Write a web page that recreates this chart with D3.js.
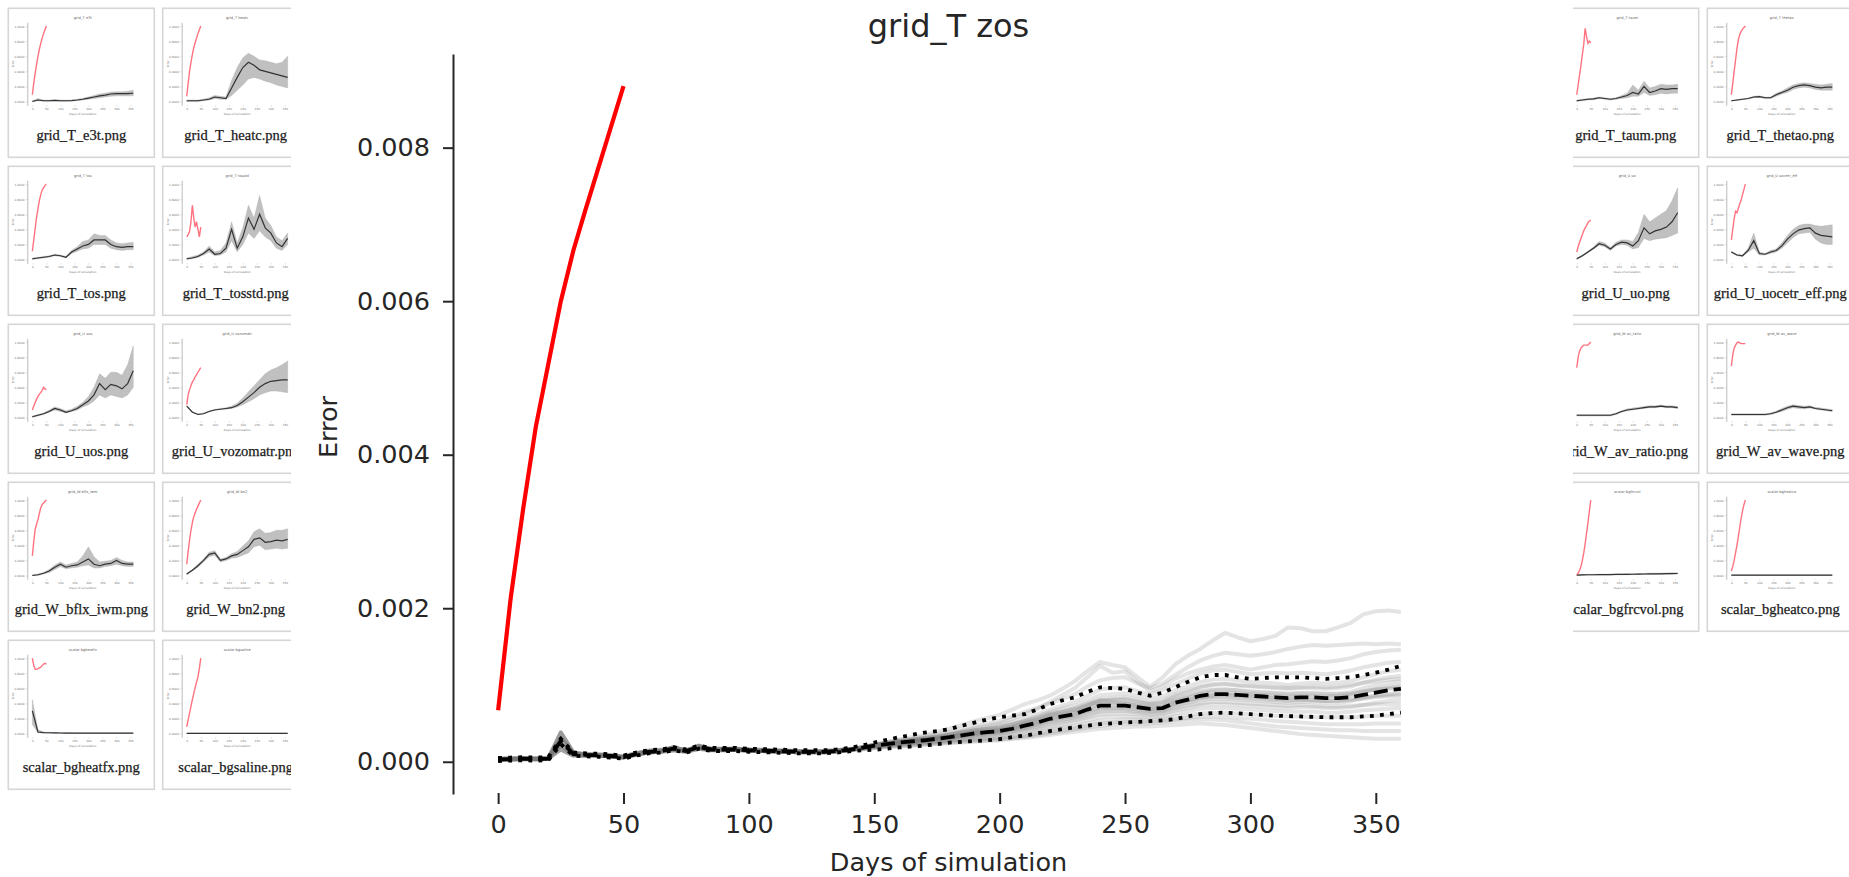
<!DOCTYPE html>
<html><head><meta charset="utf-8">
<script src="https://cdn.jsdelivr.net/npm/d3@7"></script>
<style>
html,body{margin:0;padding:0;background:#fff;overflow:hidden}
svg{display:block}
</style></head><body>
<svg id="c" width="1849" height="877"></svg>
<script>
// ---------------- MAIN CHART DATA ----------------
const chartTitle = "grid_T zos";
const xLabel = "Days of simulation";
const yLabel = "Error";
const xTicks = [0, 50, 100, 150, 200, 250, 300, 350];
const yTicks = [0, 0.002, 0.004, 0.006, 0.008];
const days = d3.range(0, 361, 5);               // sampling days of the ensemble
const redDays = [0, 5, 10, 15, 20, 25, 30, 35, 40, 45, 50];
const redErr = [0.00067, 0.00213, 0.0033, 0.00436, 0.00518, 0.006, 0.00666, 0.00721, 0.00774, 0.00827, 0.0088];
// ensemble statistics, in units of 1e-4
const meanE4 = [0.3,0.35,0.4,0.35,0.4,2.7,1.0,0.9,0.85,0.75,0.6,1.0,1.3,1.4,1.7,1.4,1.9,1.6,1.6,1.6,1.5,1.45,1.4,1.35,1.3,1.3,1.3,1.4,1.55,
 1.8,2.1,2.3,2.5,2.65,2.8,3.0,3.2,3.45,3.7,3.85,4.0,4.3,4.7,5.1,5.6,5.9,6.2,6.8,7.3,7.3,7.3,7.1,6.9,7.0,7.7,8.1,8.6,8.8,8.8,8.7,8.6,8.5,8.4,8.3,8.4,8.4,8.3,8.3,8.4,8.7,9.0,9.3,9.5];
const upperE4 = [0.5,0.55,0.6,0.55,0.6,3.0,1.2,1.1,1.05,0.95,0.8,1.2,1.5,1.6,1.9,1.6,2.1,1.8,1.8,1.8,1.7,1.65,1.6,1.55,1.5,1.5,1.5,1.6,1.8,
 2.1,2.5,2.85,3.2,3.5,3.8,4.0,4.25,4.7,5.1,5.5,5.8,6.0,6.2,6.8,7.5,8.0,8.4,9.1,9.7,9.6,9.5,9.0,8.6,9.0,9.7,10.4,11.0,11.3,11.3,11.0,10.8,10.9,11.0,11.0,11.0,10.9,10.8,10.9,11.0,11.3,11.6,12.0,12.5];
const lowerE4 = [0.1,0.15,0.2,0.15,0.2,2.3,0.8,0.7,0.65,0.55,0.4,0.8,1.1,1.2,1.5,1.2,1.7,1.4,1.4,1.4,1.3,1.25,1.2,1.15,1.1,1.1,1.1,1.2,1.35,
 1.5,1.56,1.7,1.87,2.0,2.1,2.3,2.5,2.6,2.7,2.8,2.95,3.2,3.4,3.7,4.0,4.25,4.5,4.7,4.9,5.0,5.1,5.2,5.3,5.4,5.55,5.9,6.2,6.35,6.4,6.3,6.2,6.1,6.0,5.95,5.9,5.85,5.8,5.8,5.8,5.9,6.0,6.2,6.4];
// ensemble members: early part (days 0-140) and late part (days 145-360), units 1e-4
const memberEarlyE4 = [
 [0.3,0.35,0.4,0.35,0.45,3.8,1.2,0.9,0.85,0.75,0.6,1.0,1.3,1.4,1.9,1.4,2.1,1.6,1.6,1.65,1.55,1.45,1.4,1.35,1.3,1.3,1.3,1.45,1.6],
 [0.2,0.3,0.35,0.3,0.4,2.2,0.9,0.8,0.8,0.7,0.55,0.9,1.2,1.35,1.6,1.35,1.8,1.55,1.55,1.55,1.45,1.4,1.35,1.3,1.25,1.25,1.25,1.35,1.5],
 [0.4,0.45,0.5,0.45,0.5,3.0,1.1,1.0,0.95,0.85,0.7,1.1,1.45,1.55,1.8,1.5,2.0,1.7,1.7,1.7,1.6,1.55,1.5,1.45,1.4,1.4,1.4,1.5,1.65],
 [0.3,0.3,0.35,0.35,0.4,1.6,0.8,0.85,0.8,0.7,0.6,0.95,1.25,1.3,1.5,1.3,1.7,1.5,1.5,1.55,1.45,1.4,1.35,1.3,1.25,1.25,1.25,1.35,1.5]
];
const memberLateE4 = [
 [1.9,2.3,2.6,2.9,3.2,3.5,3.9,4.3,4.8,5.3,5.7,6.1,6.8,7.5,8.0,8.6,9.5,10.5,11.8,13.0,12.6,12.3,11.0,9.8,11.0,12.7,13.8,14.7,15.8,16.8,16.2,15.7,16.0,16.4,17.5,17.4,17.0,17.0,17.5,18.1,19.2,19.6,19.7,19.5],
 [1.9,2.2,2.5,2.8,3.0,3.3,3.6,3.9,4.3,4.7,5.0,5.3,5.9,6.5,7.0,7.6,8.2,8.8,9.8,10.6,10.9,11.0,10.2,9.6,10.2,11.3,12.3,13.2,13.8,14.2,14.0,13.8,14.0,14.3,14.7,15.0,15.2,15.1,15.2,15.3,15.4,15.3,15.4,15.3],
 [1.85,2.2,2.4,2.7,2.9,3.1,3.4,3.7,4.0,4.4,4.7,5.0,5.6,6.2,6.9,7.8,8.7,9.6,11.0,12.5,11.6,11.8,10.4,9.2,9.8,10.8,11.5,12.0,12.4,12.6,12.3,12.0,12.3,12.6,12.7,12.9,13.1,13.0,13.2,13.5,14.0,14.3,14.5,14.6],
 [1.8,2.2,2.45,2.7,2.9,3.1,3.3,3.6,3.9,4.2,4.5,4.8,5.2,5.7,6.2,6.8,7.3,7.8,8.6,9.4,9.6,9.7,9.2,8.8,9.3,10.1,10.8,11.5,11.9,12.0,11.7,11.4,11.5,11.6,11.5,11.6,11.5,11.4,11.6,11.9,12.3,12.6,12.9,13.0],
 [1.8,2.1,2.35,2.6,2.8,3.0,3.2,3.5,3.8,4.1,4.3,4.5,4.9,5.4,5.9,6.5,6.9,7.3,8.0,8.7,8.8,8.9,8.6,8.3,8.5,9.3,9.8,10.4,10.7,10.8,10.6,10.4,10.3,10.2,10.0,10.2,10.3,10.2,10.3,10.5,11.0,11.4,11.8,12.0],
 [1.75,2.05,2.3,2.5,2.7,2.9,3.1,3.3,3.6,3.9,4.1,4.3,4.6,5.1,5.5,6.1,6.4,6.8,7.4,8.0,8.1,8.2,7.9,7.6,7.8,8.6,9.1,9.7,10.0,10.1,9.9,9.8,9.7,9.6,9.5,9.6,9.6,9.5,9.6,9.8,10.3,10.7,11.0,11.2],
 [1.8,2.1,2.3,2.5,2.65,2.8,3.0,3.2,3.45,3.7,3.9,4.1,4.4,4.8,5.2,5.8,6.1,6.4,7.0,7.6,7.7,7.7,7.5,7.3,7.4,8.1,8.5,9.0,9.3,9.4,9.3,9.2,9.1,9.0,8.9,9.0,9.0,8.9,8.9,9.1,9.6,10.0,10.3,10.5],
 [1.8,2.05,2.25,2.45,2.6,2.75,2.95,3.15,3.4,3.6,3.8,3.95,4.25,4.6,5.0,5.5,5.8,6.1,6.6,7.1,7.2,7.2,7.0,6.8,6.9,7.6,8.0,8.5,8.7,8.8,8.7,8.6,8.5,8.4,8.3,8.4,8.4,8.3,8.4,8.6,9.1,9.5,9.8,10.0],
 [1.75,2.0,2.2,2.4,2.55,2.7,2.9,3.05,3.3,3.5,3.65,3.8,4.1,4.4,4.8,5.2,5.5,5.8,6.3,6.7,6.8,6.8,6.6,6.5,6.6,7.2,7.6,8.0,8.2,8.2,8.1,8.0,7.9,7.8,7.7,7.8,7.8,7.7,7.7,7.9,8.3,8.6,8.8,9.0],
 [1.75,2.0,2.15,2.3,2.45,2.6,2.75,2.9,3.1,3.3,3.45,3.6,3.85,4.1,4.4,4.8,5.1,5.4,5.8,6.2,6.3,6.3,6.2,6.1,6.2,6.7,7.0,7.4,7.5,7.5,7.4,7.3,7.2,7.1,7.0,7.1,7.1,7.0,7.0,7.1,7.4,7.7,7.9,8.0],
 [1.7,1.95,2.1,2.25,2.4,2.5,2.65,2.8,3.0,3.15,3.3,3.4,3.6,3.9,4.2,4.5,4.8,5.1,5.4,5.8,5.9,5.9,5.8,5.8,5.9,6.3,6.6,6.9,7.0,7.0,6.9,6.8,6.7,6.6,6.5,6.5,6.5,6.4,6.4,6.5,6.7,6.8,6.9,7.0],
 [1.7,1.9,2.05,2.2,2.3,2.4,2.55,2.7,2.85,3.0,3.1,3.2,3.4,3.6,3.9,4.2,4.5,4.7,5.0,5.3,5.4,5.5,5.5,5.5,5.6,5.9,6.1,6.3,6.4,6.4,6.3,6.2,6.1,6.0,5.9,5.9,5.8,5.8,5.8,5.8,5.9,6.0,6.0,6.0],
 [1.65,1.85,2.0,2.1,2.2,2.3,2.45,2.6,2.7,2.85,2.95,3.05,3.2,3.4,3.65,3.9,4.2,4.4,4.7,5.0,5.1,5.2,5.2,5.2,5.3,5.5,5.7,5.9,5.9,5.9,5.7,5.6,5.5,5.3,5.2,5.1,5.0,4.9,4.9,4.9,4.9,5.0,5.0,5.0],
 [1.65,1.8,1.95,2.05,2.15,2.25,2.35,2.5,2.6,2.7,2.8,2.9,3.05,3.25,3.45,3.7,3.95,4.2,4.45,4.7,4.85,4.95,5.0,5.0,5.1,5.3,5.4,5.5,5.5,5.4,5.2,5.0,4.8,4.6,4.5,4.4,4.3,4.2,4.1,4.1,4.0,4.0,4.0,4.0],
 [1.6,1.75,1.9,2.0,2.1,2.2,2.3,2.4,2.5,2.6,2.7,2.8,2.95,3.1,3.3,3.5,3.7,3.9,4.1,4.3,4.4,4.5,4.6,4.6,4.7,4.8,4.9,5.0,4.9,4.8,4.6,4.4,4.2,4.0,3.8,3.6,3.5,3.4,3.3,3.2,3.1,3.0,3.0,3.0],
 [1.85,2.2,2.4,2.6,2.8,3.0,3.25,3.5,3.8,4.1,4.3,4.5,4.9,5.3,5.7,6.2,6.5,6.8,7.4,8.0,7.8,7.6,7.2,6.9,7.1,7.7,8.0,8.4,8.6,8.7,8.6,8.5,8.4,8.2,8.1,8.1,8.0,7.9,7.9,8.0,8.2,8.4,8.5,8.5],
 [1.9,2.15,2.35,2.55,2.7,2.85,3.05,3.3,3.55,3.8,4.0,4.2,4.5,5.0,5.4,6.0,6.3,6.6,7.3,7.9,8.0,8.0,7.7,7.5,7.6,8.3,8.7,9.2,9.4,9.4,9.3,9.1,9.0,8.9,8.8,8.9,8.9,8.8,8.8,8.9,9.2,9.4,9.5,9.5],
 [1.85,2.15,2.35,2.55,2.7,2.85,3.05,3.25,3.5,3.75,3.9,4.05,4.4,4.8,5.2,5.7,6.0,6.3,6.9,7.5,7.5,7.5,7.3,7.1,7.2,7.9,8.3,8.8,9.0,9.0,8.9,8.8,8.7,8.6,8.5,8.6,8.6,8.5,8.6,8.8,9.1,9.4,9.6,9.8],
 [1.75,2.05,2.25,2.45,2.6,2.75,2.95,3.1,3.35,3.6,3.75,3.9,4.2,4.5,4.9,5.4,5.7,6.0,6.5,7.0,7.0,7.0,6.8,6.6,6.7,7.4,7.8,8.2,8.4,8.4,8.3,8.2,8.1,8.0,7.9,8.0,8.0,7.9,8.0,8.2,8.4,8.6,8.7,8.8],
 [1.85,2.2,2.45,2.65,2.85,3.05,3.25,3.5,3.8,4.05,4.25,4.4,4.8,5.2,5.7,6.3,6.6,7.0,7.6,8.2,8.3,8.4,8.1,7.8,8.0,8.8,9.3,9.8,10.1,10.2,10.0,9.9,9.8,9.7,9.6,9.7,9.8,9.7,9.8,10.0,10.3,10.5,10.7,10.8],
 [1.7,2.0,2.15,2.35,2.5,2.65,2.8,2.95,3.2,3.4,3.55,3.7,3.95,4.25,4.6,5.0,5.3,5.6,6.0,6.5,6.6,6.6,6.4,6.3,6.4,6.9,7.3,7.6,7.8,7.8,7.7,7.6,7.5,7.4,7.3,7.4,7.3,7.2,7.2,7.3,7.4,7.5,7.5,7.5]
];

// ---------------- THUMBNAIL DATA (normalised error, 0 = min, 1 = max) ----------------
const thumbNames = ["grid_T_e3t","grid_T_heatc","grid_T_tos","grid_T_tosstd","grid_U_uos","grid_U_vozomatr","grid_W_bflx_iwm","grid_W_bn2","scalar_bgheatfx","scalar_bgsaline",
 "grid_T_taum","grid_T_thetao","grid_U_uo","grid_U_uocetr_eff","grid_W_av_ratio","grid_W_av_wave","scalar_bgfrcvol","scalar_bgheatco"];
const thumbTitles = ["grid_T e3t","grid_T heatc","grid_T tos","grid_T tosstd","grid_U uos","grid_U vozomatr","grid_W bflx_iwm","grid_W bn2","scalar bgheatfx","scalar bgsaline",
 "grid_T taum","grid_T thetao","grid_U uo","grid_U uocetr_eff","grid_W av_ratio","grid_W av_wave","scalar bgfrcvol","scalar bgheatco"];
const thumbRedDays = [0,5,10,15,20,25,30,35,40,45,50];
const thumbRed = [
 [0.09,0.24,0.37,0.49,0.6,0.69,0.77,0.84,0.9,0.95,1.0],
 [0.07,0.24,0.4,0.52,0.62,0.71,0.78,0.84,0.9,0.95,1.0],
 [0.11,0.26,0.41,0.56,0.67,0.78,0.86,0.92,0.95,0.98,1.0],
 [0.3,0.33,0.37,0.5,0.72,0.55,0.43,0.5,0.4,0.3,0.43],
 [0.1,0.15,0.2,0.24,0.28,0.31,0.33,0.36,0.4,0.38,0.37],
 [0.17,0.3,0.37,0.42,0.47,0.5,0.54,0.57,0.6,0.63,0.66],
 [0.26,0.45,0.61,0.68,0.74,0.82,0.9,0.94,0.96,0.98,1.0],
 [0.15,0.32,0.47,0.6,0.7,0.78,0.83,0.88,0.92,0.96,1.0],
 [1.0,0.9,0.85,0.85,0.86,0.87,0.88,0.9,0.92,0.93,0.92],
 [0.09,0.18,0.27,0.36,0.45,0.53,0.61,0.68,0.75,0.86,1.0],
 [0.09,0.22,0.35,0.48,0.62,0.76,0.97,0.86,0.77,0.8,0.78],
 [0.09,0.24,0.4,0.55,0.7,0.82,0.89,0.93,0.96,0.98,1.0],
 [0.1,0.17,0.23,0.28,0.33,0.38,0.42,0.45,0.49,0.51,0.52],
 [0.26,0.4,0.54,0.64,0.62,0.68,0.74,0.79,0.86,0.93,1.0],
 [0.66,0.8,0.88,0.92,0.94,0.96,0.96,0.96,0.96,0.98,1.0],
 [0.68,0.83,0.92,0.96,0.99,1.0,0.99,0.98,0.98,0.98,0.98],
 [0.01,0.03,0.07,0.12,0.2,0.3,0.42,0.56,0.7,0.85,1.0],
 [0.06,0.12,0.2,0.3,0.4,0.52,0.64,0.76,0.86,0.94,1.0]
];
const thumbDays = [0,20,40,60,80,100,120,140,160,180,200,220,240,260,280,300,320,340,360];
const thumbMid = [
 [0,0.02,0.01,0.01,0.015,0.01,0.01,0.012,0.02,0.03,0.045,0.06,0.075,0.085,0.1,0.105,0.105,0.105,0.11],
 [0.01,0.01,0.01,0.02,0.03,0.06,0.05,0.04,0.18,0.32,0.45,0.52,0.48,0.42,0.4,0.38,0.36,0.34,0.32],
 [0.01,0.02,0.03,0.04,0.06,0.05,0.03,0.1,0.14,0.18,0.2,0.26,0.26,0.26,0.2,0.17,0.16,0.17,0.17],
 [0.01,0.02,0.04,0.08,0.14,0.07,0.08,0.15,0.4,0.15,0.3,0.55,0.4,0.6,0.42,0.35,0.22,0.17,0.28],
 [0.01,0.03,0.05,0.08,0.12,0.1,0.07,0.09,0.12,0.17,0.22,0.3,0.45,0.37,0.44,0.42,0.38,0.45,0.62],
 [0.15,0.07,0.04,0.05,0.08,0.1,0.11,0.12,0.13,0.16,0.21,0.27,0.33,0.4,0.45,0.48,0.49,0.5,0.5],
 [0,0.01,0.03,0.06,0.11,0.15,0.11,0.13,0.14,0.18,0.22,0.15,0.13,0.15,0.16,0.2,0.16,0.15,0.15],
 [0.02,0.07,0.13,0.2,0.28,0.3,0.2,0.22,0.26,0.28,0.33,0.38,0.48,0.5,0.44,0.45,0.47,0.46,0.48],
 [0.3,0.02,0.012,0.01,0.008,0.007,0.006,0.006,0.005,0.005,0.005,0.005,0.005,0.005,0.005,0.005,0.005,0.005,0.005],
 [0.002,0.002,0.002,0.002,0.002,0.002,0.002,0.002,0.002,0.002,0.002,0.002,0.002,0.002,0.002,0.002,0.002,0.002,0.002],
 [0.01,0.02,0.03,0.035,0.05,0.04,0.03,0.04,0.06,0.08,0.12,0.1,0.2,0.12,0.14,0.17,0.16,0.17,0.17],
 [0.01,0.02,0.03,0.04,0.06,0.065,0.05,0.05,0.09,0.12,0.15,0.19,0.21,0.22,0.21,0.19,0.18,0.19,0.19],
 [0.01,0.05,0.1,0.15,0.21,0.19,0.14,0.2,0.23,0.22,0.18,0.25,0.42,0.34,0.38,0.4,0.43,0.5,0.62],
 [0.1,0.06,0.05,0.12,0.25,0.08,0.07,0.1,0.12,0.18,0.27,0.34,0.39,0.41,0.42,0.35,0.32,0.31,0.3],
 [0.03,0.03,0.03,0.03,0.03,0.03,0.03,0.05,0.08,0.1,0.11,0.12,0.13,0.14,0.14,0.15,0.14,0.14,0.13],
 [0.04,0.04,0.04,0.04,0.04,0.04,0.04,0.05,0.07,0.1,0.13,0.15,0.14,0.13,0.14,0.12,0.11,0.1,0.09],
 [0.005,0.008,0.01,0.01,0.012,0.012,0.013,0.014,0.015,0.016,0.017,0.018,0.02,0.021,0.022,0.023,0.025,0.026,0.027],
 [0.005,0.005,0.005,0.005,0.005,0.005,0.005,0.005,0.005,0.005,0.005,0.005,0.005,0.005,0.005,0.005,0.005,0.005,0.005]
];
const thumbLo = [
 [0,0.01,0.005,0.005,0.01,0.005,0.005,0.007,0.012,0.02,0.03,0.04,0.05,0.06,0.07,0.075,0.075,0.075,0.075],
 [0,0,0,0.01,0.02,0.04,0.03,0.03,0.08,0.15,0.22,0.3,0.32,0.3,0.27,0.25,0.22,0.2,0.18],
 [0,0.01,0.02,0.03,0.05,0.04,0.02,0.08,0.11,0.14,0.15,0.2,0.2,0.2,0.15,0.13,0.12,0.13,0.13],
 [0,0.01,0.03,0.06,0.1,0.05,0.06,0.1,0.25,0.1,0.2,0.35,0.28,0.38,0.3,0.25,0.15,0.12,0.2],
 [0,0.02,0.04,0.07,0.1,0.08,0.06,0.08,0.1,0.14,0.17,0.22,0.3,0.26,0.3,0.28,0.26,0.3,0.4],
 [0.15,0.07,0.04,0.05,0.08,0.1,0.11,0.11,0.12,0.14,0.17,0.21,0.25,0.3,0.33,0.35,0.35,0.34,0.33],
 [0,0,0.02,0.04,0.08,0.12,0.09,0.1,0.11,0.13,0.14,0.1,0.1,0.12,0.13,0.15,0.13,0.12,0.12],
 [0.01,0.06,0.11,0.18,0.25,0.27,0.18,0.2,0.23,0.24,0.27,0.3,0.38,0.4,0.34,0.35,0.36,0.35,0.36],
 [0.12,0.01,0.006,0.005,0.004,0.003,0.003,0.003,0.002,0.002,0.002,0.002,0.002,0.002,0.002,0.002,0.002,0.002,0.002],
 [0,0,0,0,0,0,0,0,0,0,0,0,0,0,0,0,0,0,0],
 [0,0.01,0.02,0.025,0.04,0.03,0.02,0.03,0.04,0.05,0.07,0.07,0.12,0.08,0.09,0.11,0.1,0.11,0.11],
 [0.005,0.015,0.025,0.035,0.05,0.055,0.04,0.04,0.07,0.1,0.12,0.16,0.18,0.19,0.18,0.16,0.15,0.15,0.15],
 [0,0.04,0.09,0.14,0.19,0.17,0.12,0.18,0.2,0.19,0.14,0.16,0.28,0.25,0.27,0.28,0.29,0.32,0.35],
 [0.09,0.05,0.04,0.1,0.15,0.06,0.06,0.08,0.1,0.15,0.22,0.29,0.34,0.35,0.36,0.27,0.22,0.2,0.2],
 [0.02,0.02,0.02,0.02,0.02,0.02,0.02,0.04,0.07,0.09,0.1,0.11,0.12,0.13,0.13,0.14,0.13,0.13,0.12],
 [0.03,0.03,0.03,0.03,0.03,0.03,0.03,0.04,0.06,0.08,0.11,0.13,0.12,0.115,0.125,0.11,0.1,0.09,0.08],
 [0,0.003,0.005,0.005,0.007,0.007,0.008,0.009,0.01,0.011,0.012,0.013,0.014,0.015,0.016,0.017,0.018,0.019,0.02],
 [0.002,0.002,0.002,0.002,0.002,0.002,0.002,0.002,0.002,0.002,0.002,0.002,0.002,0.002,0.002,0.002,0.002,0.002,0.002]
];
const thumbHi = [
 [0.01,0.04,0.02,0.02,0.025,0.02,0.02,0.02,0.03,0.045,0.06,0.08,0.1,0.11,0.125,0.13,0.13,0.135,0.15],
 [0.02,0.02,0.02,0.03,0.05,0.08,0.07,0.06,0.28,0.45,0.58,0.64,0.6,0.55,0.54,0.52,0.5,0.52,0.6],
 [0.02,0.03,0.04,0.05,0.07,0.06,0.04,0.12,0.17,0.24,0.26,0.34,0.32,0.32,0.26,0.22,0.21,0.22,0.23],
 [0.02,0.04,0.06,0.1,0.18,0.1,0.12,0.22,0.5,0.22,0.42,0.72,0.55,0.85,0.55,0.45,0.3,0.25,0.35],
 [0.02,0.04,0.06,0.1,0.14,0.12,0.09,0.11,0.15,0.2,0.28,0.4,0.58,0.52,0.6,0.6,0.56,0.7,0.95],
 [0.16,0.08,0.05,0.06,0.09,0.11,0.12,0.13,0.15,0.19,0.26,0.34,0.42,0.5,0.58,0.63,0.66,0.7,0.75],
 [0.01,0.02,0.04,0.08,0.14,0.18,0.14,0.16,0.18,0.26,0.38,0.25,0.18,0.19,0.2,0.24,0.2,0.18,0.18],
 [0.03,0.08,0.15,0.22,0.31,0.33,0.22,0.24,0.29,0.32,0.39,0.46,0.58,0.62,0.56,0.57,0.6,0.6,0.62],
 [0.45,0.05,0.02,0.015,0.012,0.01,0.01,0.01,0.008,0.008,0.008,0.008,0.008,0.008,0.008,0.008,0.008,0.008,0.008],
 [0.006,0.006,0.006,0.006,0.006,0.006,0.006,0.006,0.006,0.006,0.006,0.006,0.006,0.006,0.006,0.006,0.006,0.006,0.006],
 [0.02,0.03,0.04,0.045,0.06,0.05,0.04,0.05,0.08,0.11,0.22,0.15,0.27,0.18,0.2,0.23,0.22,0.22,0.23],
 [0.015,0.025,0.035,0.045,0.07,0.075,0.06,0.06,0.11,0.14,0.18,0.22,0.24,0.25,0.24,0.23,0.22,0.23,0.24],
 [0.02,0.06,0.11,0.17,0.24,0.22,0.16,0.23,0.26,0.26,0.24,0.36,0.6,0.5,0.55,0.6,0.65,0.78,0.95],
 [0.11,0.07,0.06,0.15,0.35,0.1,0.08,0.12,0.14,0.22,0.32,0.4,0.45,0.47,0.47,0.45,0.44,0.45,0.46],
 [0.04,0.04,0.04,0.04,0.04,0.04,0.04,0.06,0.09,0.115,0.125,0.135,0.145,0.155,0.155,0.165,0.155,0.155,0.145],
 [0.05,0.05,0.05,0.05,0.05,0.05,0.05,0.06,0.085,0.12,0.15,0.17,0.16,0.15,0.155,0.135,0.125,0.115,0.105],
 [0.01,0.013,0.015,0.015,0.017,0.018,0.019,0.02,0.021,0.023,0.024,0.026,0.028,0.03,0.031,0.033,0.035,0.037,0.038],
 [0.008,0.008,0.008,0.008,0.008,0.008,0.008,0.008,0.008,0.008,0.008,0.008,0.008,0.008,0.008,0.008,0.008,0.008,0.008]
];
const thumbYTicks = [0, 0.2, 0.4, 0.6, 0.8, 1.0];

// ---------------- derived (unit conversion only) ----------------
const E4 = 1e-4;
const mean = meanE4.map(v => v * E4);
const upper = upperE4.map(v => v * E4);
const lower = lowerE4.map(v => v * E4);
const members = memberLateE4.map((late, i) => memberEarlyE4[i % memberEarlyE4.length].concat(late).map(v => v * E4));

// ---------------- DRAW ----------------
const svg = d3.select("#c");
const FONT = "DejaVu Sans, sans-serif";
const TXT = "#262626";

const AX = {l: 453, t: 54, r: 1446, b: 794};
const x = d3.scaleLinear().domain([-18, 378]).range([AX.l, AX.r]);
const y = d3.scaleLinear().domain([-0.00042, 0.00922]).range([AX.b, AX.t]);

const main = svg.append("g");
const lineOf = vals => d3.line().x((d, i) => x(days[i])).y(d => y(d))(vals);

main.append("g").selectAll("path").data(members).join("path")
  .attr("d", d => lineOf(d))
  .attr("fill", "none").attr("stroke", "#7a7a7a").attr("stroke-opacity", 0.2)
  .attr("stroke-width", 4).attr("stroke-linejoin", "round");

[lower, upper].forEach(arr => {
  main.append("path").attr("d", lineOf(arr))
    .attr("fill", "none").attr("stroke", "#000").attr("stroke-width", 3.8)
    .attr("stroke-dasharray", "3.8,6.3");
});
main.append("path").attr("d", lineOf(mean))
  .attr("fill", "none").attr("stroke", "#000").attr("stroke-width", 3.8)
  .attr("stroke-dasharray", "14,6");

main.append("path")
  .attr("d", d3.line().x((d, i) => x(redDays[i])).y(d => y(d))(redErr))
  .attr("fill", "none").attr("stroke", "#ff0000").attr("stroke-width", 4.2)
  .attr("stroke-linejoin", "round");

const yAx = main.append("g").attr("transform", `translate(${AX.l},0)`)
  .call(d3.axisLeft(y).tickValues(yTicks).tickFormat(d3.format(".3f"))
    .tickSize(10).tickSizeOuter(0).tickPadding(13));
yAx.select(".domain").attr("stroke", "#262626").attr("stroke-width", 2);
yAx.selectAll(".tick line").attr("stroke", "#262626").attr("stroke-width", 2);
yAx.selectAll(".tick text").attr("font-family", FONT).attr("font-size", 25.5).attr("fill", TXT);

const xAx = main.append("g").attr("transform", `translate(0,${AX.b - 1})`)
  .call(d3.axisBottom(x).tickValues(xTicks).tickFormat(d3.format("d"))
    .tickSize(11).tickSizeOuter(0).tickPadding(11));
xAx.select(".domain").remove();
xAx.selectAll(".tick line").attr("stroke", "#262626").attr("stroke-width", 2);
xAx.selectAll(".tick text").attr("font-family", FONT).attr("font-size", 25.5).attr("fill", TXT);

main.append("text").attr("x", (AX.l + AX.r) / 2 - 1).attr("y", 37)
  .attr("text-anchor", "middle").attr("font-family", FONT).attr("font-size", 32)
  .attr("fill", TXT).text(chartTitle);
main.append("text").attr("x", (AX.l + AX.r) / 2 - 1).attr("y", 871)
  .attr("text-anchor", "middle").attr("font-family", FONT).attr("font-size", 25.5)
  .attr("fill", TXT).text(xLabel);
main.append("text").attr("transform", "translate(337,427) rotate(-90)")
  .attr("text-anchor", "middle").attr("font-family", FONT).attr("font-size", 25.5)
  .attr("fill", TXT).text(yLabel);

// ---------------- thumbnails ----------------
const defs = svg.append("defs");
defs.append("clipPath").attr("id", "clipL").append("rect").attr("x", 0).attr("y", 0).attr("width", 291).attr("height", 877);
defs.append("clipPath").attr("id", "clipR").append("rect").attr("x", 1573).attr("y", 0).attr("width", 276).attr("height", 877);
const leftPanel = svg.append("g").attr("clip-path", "url(#clipL)");
const rightPanel = svg.append("g").attr("clip-path", "url(#clipR)");

const CARD_W = 146, CARD_H = 149, ROW_PITCH = 158;
const TA = {l: 19, t: 14, w: 111, h: 83};
const tx = d3.scaleLinear().domain([-18, 378]).range([TA.l, TA.l + TA.w]);
const ty = d3.scaleLinear().domain([-0.05, 1.05]).range([TA.t + TA.h, TA.t]);

thumbNames.forEach((name, i) => {
  const isLeft = i < 10;
  const k = isLeft ? i : i - 10;
  const col = k % 2, row = Math.floor(k / 2);
  const cx = isLeft ? [8.3, 162.7][col] : [1552.7, 1707.3][col];
  const cy = 8.3 + row * ROW_PITCH;
  const g = (isLeft ? leftPanel : rightPanel).append("g").attr("transform", `translate(${cx},${cy})`);
  g.append("rect").attr("x", 0).attr("y", 0).attr("width", CARD_W).attr("height", CARD_H)
    .attr("fill", "#fff").attr("stroke", "#d6d6d6").attr("stroke-width", 1.6);

  g.append("path")
    .attr("d", d3.area().x((d, j) => tx(thumbDays[j])).y0((d, j) => ty(thumbLo[i][j])).y1(d => ty(d))(thumbHi[i]))
    .attr("fill", "#8c8c8c").attr("fill-opacity", 0.55).attr("stroke", "#aaa").attr("stroke-width", 0.6).attr("stroke-opacity", 0.6);
  g.append("path")
    .attr("d", d3.line().x((d, j) => tx(thumbDays[j])).y(d => ty(d))(thumbMid[i]))
    .attr("fill", "none").attr("stroke", "#333").attr("stroke-width", 1.2);
  g.append("path")
    .attr("d", d3.line().x((d, j) => tx(thumbRedDays[j])).y(d => ty(d))(thumbRed[i]))
    .attr("fill", "none").attr("stroke", "#ff5a6a").attr("stroke-width", 1.4).attr("stroke-opacity", 0.85);

  const ya = g.append("g").attr("transform", `translate(${TA.l},0)`)
    .call(d3.axisLeft(ty).tickValues(thumbYTicks).tickFormat(d3.format(".4f")).tickSize(1.2).tickSizeOuter(0).tickPadding(1.5));
  ya.select(".domain").attr("stroke", "#555").attr("stroke-width", 0.4);
  ya.selectAll(".tick line").attr("stroke", "#777").attr("stroke-width", 0.3);
  ya.selectAll(".tick text").attr("font-family", FONT).attr("font-size", 2.9).attr("fill", "#777");
  const xa = g.append("g").attr("transform", `translate(0,${TA.t + TA.h})`)
    .call(d3.axisBottom(tx).tickValues(xTicks).tickFormat(d3.format("d")).tickSize(1.2).tickSizeOuter(0).tickPadding(1.3));
  xa.select(".domain").remove();
  xa.selectAll(".tick line").attr("stroke", "#777").attr("stroke-width", 0.3);
  xa.selectAll(".tick text").attr("font-family", FONT).attr("font-size", 2.9).attr("fill", "#777");
  g.append("text").attr("x", TA.l + TA.w / 2).attr("y", 11).attr("text-anchor", "middle")
    .attr("font-family", FONT).attr("font-size", 3.6).attr("fill", "#666").text(thumbTitles[i]);
  g.append("text").attr("x", TA.l + TA.w / 2).attr("y", 106.5).attr("text-anchor", "middle")
    .attr("font-family", FONT).attr("font-size", 2.9).attr("fill", "#777").text(xLabel);
  g.append("text").attr("transform", `translate(${TA.l - 13},${TA.t + TA.h / 2}) rotate(-90)`).attr("text-anchor", "middle")
    .attr("font-family", FONT).attr("font-size", 2.9).attr("fill", "#777").text(yLabel);

  g.append("text").attr("x", CARD_W / 2).attr("y", 132).attr("text-anchor", "middle")
    .attr("font-family", "Liberation Serif, serif").attr("font-size", 14.5).attr("fill", "#1a1a1a")
    .attr("stroke", "#1a1a1a").attr("stroke-width", 0.25)
    .text(name + ".png");
});
</script></body></html>
